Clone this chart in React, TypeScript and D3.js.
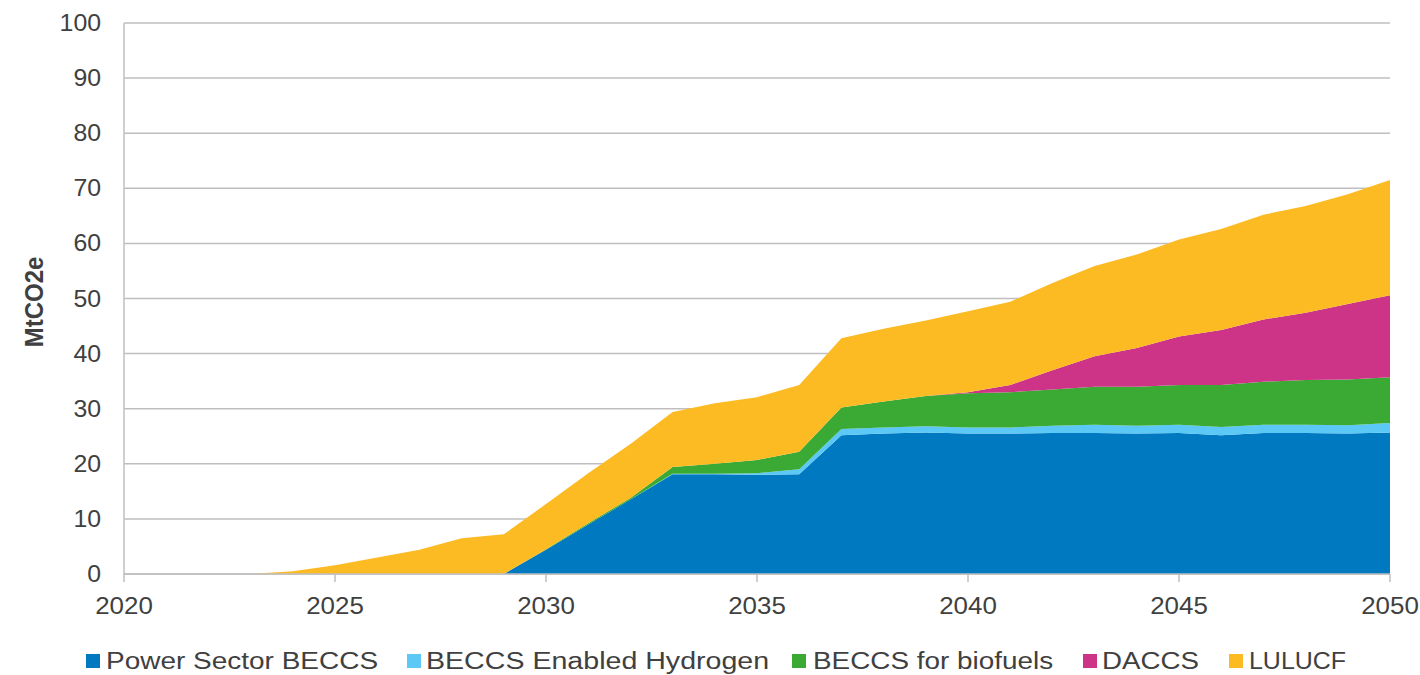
import React, { useLayoutEffect, useRef, useState } from "react";
import * as d3 from "d3";

const years: number[] = d3.range(2020, 2051);
const seriesNames: string[] = ["Power Sector BECCS", "BECCS Enabled Hydrogen", "BECCS for biofuels", "DACCS", "LULUCF"];
const seriesColors: string[] = ["#0079c1", "#5bc8f5", "#3aaa35", "#cd3386", "#fdbb23"];

const powerBECCS: number[] = [0, 0, 0, 0, 0, 0, 0, 0, 0, 0, 4.4, 9.0, 13.5, 18.1, 18.1, 18.0, 18.1, 25.2, 25.5, 25.7, 25.5, 25.5, 25.6, 25.6, 25.5, 25.6, 25.2, 25.6, 25.6, 25.5, 25.7];
const hydrogen: number[] = [0, 0, 0, 0, 0, 0, 0, 0, 0, 0, 0, 0, 0, 0.1, 0.1, 0.3, 0.9, 1.1, 1.1, 1.1, 1.1, 1.1, 1.3, 1.5, 1.4, 1.5, 1.5, 1.5, 1.5, 1.5, 1.7];
const biofuels: number[] = [0, 0, 0, 0, 0, 0, 0, 0, 0, 0, 0.1, 0.2, 0.3, 1.2, 1.8, 2.4, 3.2, 3.9, 4.7, 5.5, 6.2, 6.4, 6.6, 6.9, 7.1, 7.2, 7.6, 7.8, 8.1, 8.3, 8.3];
const daccs: number[] = [0, 0, 0, 0, 0, 0, 0, 0, 0, 0, 0, 0, 0, 0, 0, 0, 0, 0, 0, 0, 0.2, 1.3, 3.5, 5.5, 7.0, 8.8, 10.0, 11.3, 12.2, 13.7, 14.9];
const lulucf: number[] = [0, 0, 0, 0, 0.5, 1.6, 3.0, 4.4, 6.5, 7.2, 8.2, 9.1, 9.8, 10.0, 11.0, 11.4, 12.1, 12.6, 13.2, 13.7, 14.7, 15.1, 15.8, 16.4, 17.0, 17.6, 18.3, 19.0, 19.4, 19.9, 20.9];

const yTicks: number[] = [0, 10, 20, 30, 40, 50, 60, 70, 80, 90, 100];
const xTicks: number[] = [2020, 2025, 2030, 2035, 2040, 2045, 2050];
const yTitle = "MtCO2e";

const legendSwatchX: number[] = [86, 407, 792, 1083, 1229];
const legendTextX: number[] = [106, 426, 813, 1102, 1249];
const legendW: number[] = [272, 343, 240, 97, 97];

export default function App() {
  const W = 1420, H = 675;
  const x = d3.scaleLinear().domain([2020, 2050]).range([124, 1390]);
  const y = d3.scaleLinear().domain([0, 100]).range([574, 23]);

  const seriesData = [powerBECCS, hydrogen, biofuels, daccs, lulucf];
  const rows = years.map((yr, i) => {
    const r: any = { year: yr };
    seriesNames.forEach((n, k) => (r[n] = seriesData[k][i]));
    return r;
  });
  const stacked = d3.stack<any>().keys(seriesNames)(rows);
  const area = d3
    .area<any>()
    .x((d) => x(d.data.year))
    .y0((d) => y(d[0]))
    .y1((d) => y(d[1]));

  const font = "'Liberation Sans', Arial, sans-serif";
  const textColor = "#404040";
  const grid = "#bfbfbf";

  const legRefs = useRef<(SVGTextElement | null)[]>([]);
  const [scales, setScales] = useState<number[]>(seriesNames.map(() => 1.2));
  useLayoutEffect(() => {
    const s = legRefs.current.map((el, k) => {
      if (!el) return 1.2;
      const w = el.getBBox().width;
      return w > 0 ? legendW[k] / w : 1.2;
    });
    setScales(s);
  }, []);

  return (
    <svg width={W} height={H} style={{ position: "fixed", left: 0, top: 0, background: "#fff" }}>
      <rect x={0} y={0} width={W} height={H} fill="#fff" />
      {yTicks.map((t) => (
        <line key={"g" + t} x1={x(2020)} x2={x(2050)} y1={y(t)} y2={y(t)} stroke={grid} strokeWidth={1.5} />
      ))}
      {stacked.map((s, k) => (
        <path key={s.key} d={area(s) || ""} fill={seriesColors[k]} />
      ))}
      <line x1={x(2020)} x2={x(2020)} y1={y(100)} y2={y(0)} stroke={grid} strokeWidth={1.5} />
      <line x1={x(2020)} x2={x(2050)} y1={y(0)} y2={y(0)} stroke={grid} strokeWidth={1.5} />
      {xTicks.map((t) => (
        <line key={"xt" + t} x1={x(t)} x2={x(t)} y1={y(0)} y2={y(0) + 8} stroke={grid} strokeWidth={1.5} />
      ))}
      {yTicks.map((t) => (
        <text
          key={"yl" + t}
          transform={`translate(101,${y(t) + 8}) scale(1.08,1)`}
          textAnchor="end"
          fontFamily={font}
          fontSize={23}
          fill={textColor}
        >
          {t}
        </text>
      ))}
      {xTicks.map((t) => (
        <text
          key={"xl" + t}
          transform={`translate(${x(t)},614) scale(1.08,1)`}
          textAnchor="middle"
          fontFamily={font}
          fontSize={24}
          fill={textColor}
        >
          {t}
        </text>
      ))}
      <text
        transform={`translate(43,302) scale(1.1,1) rotate(-90)`}
        textAnchor="middle"
        fontFamily={font}
        fontSize={24}
        fontWeight="bold"
        fill={textColor}
      >
        {yTitle}
      </text>
      {seriesNames.map((n, k) => (
        <g key={"lg" + n}>
          <rect x={legendSwatchX[k]} y={654} width={14} height={14} fill={seriesColors[k]} />
          <text
            ref={(el) => { legRefs.current[k] = el; }}
            transform={`translate(${legendTextX[k]},668.5) scale(${scales[k]},1)`}
            fontFamily={font}
            fontSize={23}
            fill={textColor}
          >
            {n}
          </text>
        </g>
      ))}
    </svg>
  );
}
